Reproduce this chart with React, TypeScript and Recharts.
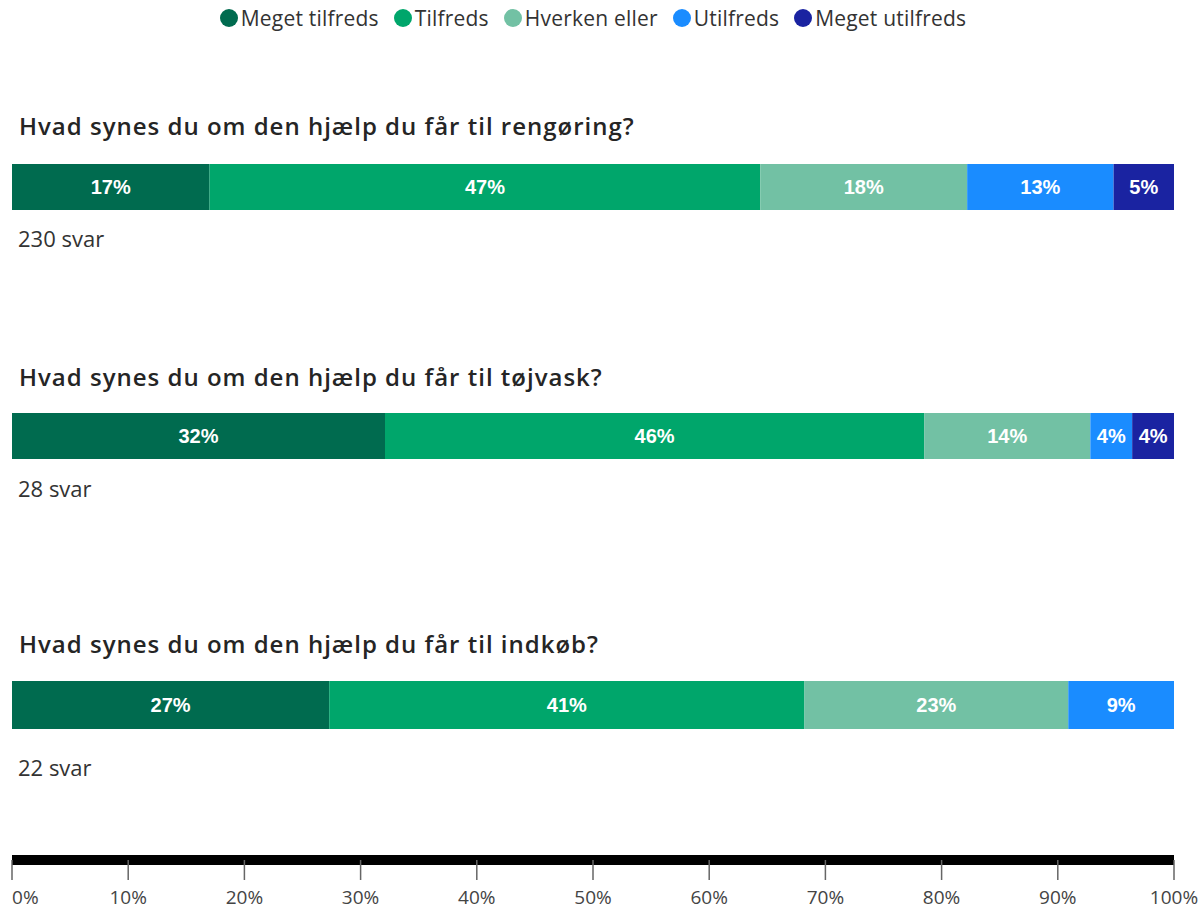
import React from "react";
import { BarChart, Bar, XAxis, YAxis, LabelList } from "recharts";

const CATEGORIES = ["Meget tilfreds", "Tilfreds", "Hverken eller", "Utilfreds", "Meget utilfreds"];
const COLORS = ["#006b4f", "#00a66b", "#72c1a4", "#1a8cff", "#1a23a1"];

const QUESTIONS = [
  "Hvad synes du om den hjælp du får til rengøring?",
  "Hvad synes du om den hjælp du får til tøjvask?",
  "Hvad synes du om den hjælp du får til indkøb?",
];
const RESPONSES = [230, 28, 22];

// percent per answer category, same order as CATEGORIES
const RENGORING = [17.0, 47.4, 17.8, 12.6, 5.2];
const TOJVASK = [32.1, 46.4, 14.3, 3.6, 3.6];
const INDKOB = [27.3, 40.9, 22.7, 9.1, 0];
const VALUES = [RENGORING, TOJVASK, INDKOB];

const X_TICKS = [0, 10, 20, 30, 40, 50, 60, 70, 80, 90, 100];

const FONT = "'Open Sans', 'Noto Sans', sans-serif";
const NARROW = "'Liberation Sans Narrow', 'Arial Narrow', 'Liberation Sans', sans-serif";

// layout (page px)
const PLOT_LEFT = 12;
const PLOT_WIDTH = 1162;
const BAR_TOP = [164, 413, 681];
const BAR_H = [46, 46, 48];
const TITLE_Y = [126, 377, 644];
const SVAR_Y = [238, 488, 767];

function CenterText({ y, x, size, weight, color, spacing, children }: any) {
  return (
    <div
      style={{
        position: "absolute",
        left: x,
        top: y - 20,
        height: 40,
        lineHeight: "40px",
        fontFamily: FONT,
        fontSize: size,
        fontWeight: weight,
        letterSpacing: spacing || 0,
        color,
        whiteSpace: "nowrap",
      }}
    >
      {children}
    </div>
  );
}

function QuestionBar({ idx }: { idx: number }) {
  const row: any = { name: QUESTIONS[idx] };
  CATEGORIES.forEach((c, i) => (row[c] = VALUES[idx][i]));
  return (
    <div style={{ position: "absolute", left: PLOT_LEFT, top: BAR_TOP[idx] }}>
      <BarChart
        width={PLOT_WIDTH}
        height={BAR_H[idx]}
        data={[row]}
        layout="vertical"
        margin={{ top: 0, right: 0, bottom: 0, left: 0 }}
        barCategoryGap={0}
      >
        <XAxis type="number" domain={[0, 100]} hide />
        <YAxis type="category" dataKey="name" hide />
        {CATEGORIES.map((c, i) => (
          <Bar key={c} dataKey={c} stackId="a" fill={COLORS[i]} isAnimationActive={false}>
            <LabelList
              dataKey={c}
              position="center"
              fill="#ffffff"
              fontFamily={NARROW}
              fontWeight="bold"
              fontSize={20}
              formatter={(v: any) => (v ? `${Math.round(v)}%` : "")}
            />
          </Bar>
        ))}
      </BarChart>
    </div>
  );
}

function AxisTick({ x, y, payload, index }: any) {
  return (
    <text
      x={x}
      y={y}
      dy={22}
      textAnchor={index === 0 ? "start" : "middle"}
      fill="#444"
      fontSize={19}
      fontFamily={FONT}
    >
      {payload.value}%
    </text>
  );
}

function BottomAxis() {
  return (
    <div style={{ position: "absolute", left: 0, top: 850 }}>
      <BarChart
        width={1201}
        height={61}
        data={[{ name: "", value: 0 }]}
        layout="vertical"
        margin={{ top: 5, right: 27, bottom: 0, left: PLOT_LEFT }}
      >
        <XAxis
          type="number"
          domain={[0, 100]}
          ticks={X_TICKS}
          interval={0}
          height={51}
          axisLine={{ stroke: "#000", strokeWidth: 10 }}
          tickLine={{ stroke: "#666", strokeWidth: 1.5 }}
          tickSize={20}
          tick={<AxisTick />}
        />
        <YAxis type="category" dataKey="name" hide />
        <Bar dataKey="value" fill="transparent" isAnimationActive={false} />
      </BarChart>
    </div>
  );
}

function LegendRow() {
  return (
    <div
      style={{
        position: "absolute",
        left: PLOT_LEFT,
        width: PLOT_WIDTH,
        top: 4,
        height: 28,
        lineHeight: "28px",
        display: "flex",
        justifyContent: "center",
        fontFamily: FONT,
        fontSize: 21,
        letterSpacing: 0.2,
        color: "#333",
      }}
    >
      {CATEGORIES.map((c, i) => (
        <div key={c} style={{ display: "flex", alignItems: "center", marginRight: i < 4 ? 15 : 0 }}>
          <span
            style={{
              width: 18,
              height: 18,
              borderRadius: "50%",
              background: COLORS[i],
              display: "inline-block",
              marginRight: 3,
            }}
          />
          {c}
        </div>
      ))}
    </div>
  );
}

export default function App() {
  return (
    <div style={{ position: "absolute", left: 0, top: 0, width: 1201, height: 911, background: "#fff" }}>
      <LegendRow />
      {QUESTIONS.map((q, i) => (
        <React.Fragment key={q}>
          <CenterText x={19} y={TITLE_Y[i]} size={24} weight={600} color="#252525" spacing={1}>
            {q}
          </CenterText>
          <QuestionBar idx={i} />
          <CenterText x={18} y={SVAR_Y[i]} size={22} weight={400} color="#333">
            {RESPONSES[i]} svar
          </CenterText>
        </React.Fragment>
      ))}
      <BottomAxis />
    </div>
  );
}
